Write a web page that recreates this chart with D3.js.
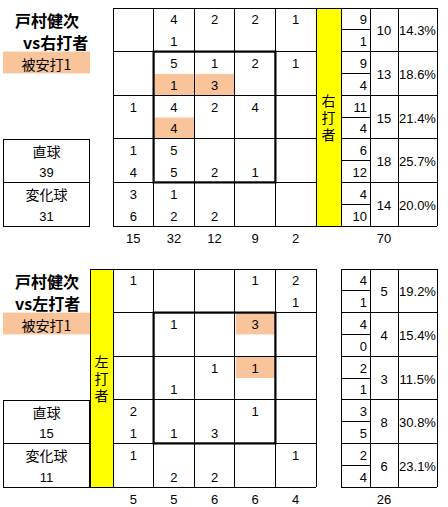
<!DOCTYPE html>
<html><head><meta charset="utf-8">
<script src="https://cdn.jsdelivr.net/npm/d3@7"></script>
<style>
html,body{margin:0;padding:0;background:#fff;}
svg{display:block;}
text{font-family:"Liberation Sans",Arial,sans-serif;}
.jp{font-family:"Noto Sans CJK JP","Noto Sans",sans-serif;}
.vert{writing-mode:vertical-rl;text-orientation:upright;}
</style>
</head><body>
<svg id="c" width="448" height="507"></svg>
<script>
// ---------- data ----------
const pitcher = "戸村健次";
const hitLabel = "被安打1";
const pitchTypes = ["直球", "変化球"];

// vs right-handed batters (rows = height zones, cols = horizontal zones)
const rStraight = [[null,4,2,2,1],[null,5,1,2,1],[1,4,2,4,null],[1,5,null,null,null],[3,1,null,null,null]];
const rBreaking = [[null,1,null,null,null],[null,1,3,null,null],[null,4,null,null,null],[4,5,2,1,null],[6,2,2,null,null]];
const rHits = [[1,1,"b"],[1,2,"b"],[2,1,"b"]];
const rRowStraight = [9,9,11,6,4];
const rRowBreaking = [1,4,4,12,10];
const rRowTotal = [10,13,15,18,14];
const rRowPct = ["14.3%","18.6%","21.4%","25.7%","20.0%"];
const rColTotal = [15,32,12,9,2];
const rGrand = 70;
const rTypeTotals = [39,31];

// vs left-handed batters
const lStraight = [[1,null,null,1,2],[null,1,null,3,null],[null,null,1,1,null],[2,null,null,1,null],[1,null,null,null,1]];
const lBreaking = [[null,null,null,null,1],[null,null,null,null,null],[null,1,null,null,null],[1,1,3,null,null],[null,2,2,null,null]];
const lHits = [[1,3,"t"],[2,3,"t"]];
const lRowStraight = [4,4,2,3,2];
const lRowBreaking = [1,0,1,5,4];
const lRowTotal = [5,4,3,8,6];
const lRowPct = ["19.2%","15.4%","11.5%","30.8%","23.1%"];
const lColTotal = [5,5,6,6,4];
const lGrand = 26;
const lTypeTotals = [15,11];

// ---------- drawing ----------
const svg = d3.select("#c");
svg.append("rect").attr("width",448).attr("height",507).attr("fill","#fff");
const ORANGE = "#F9C499", YELLOW = "#FFFF00";
const idx = d3.range(5);

function line(g,x1,y1,x2,y2,w){
  g.append("line").attr("x1",x1).attr("y1",y1).attr("x2",x2).attr("y2",y2)
   .attr("stroke","#000").attr("stroke-width",w||1).attr("shape-rendering","crispEdges");
}
function txt(g,x,y,s,opt){
  opt=opt||{};
  return g.append("text").attr("x",x).attr("y",y).text(s)
    .attr("text-anchor",opt.anchor||"middle").attr("dominant-baseline","central")
    .attr("font-size",opt.size||13).attr("font-weight",opt.weight||"normal")
    .attr("class",opt.cls||null).attr("fill","#000");
}

function drawChart(cfg){
  const g = svg.append("g");
  const x = d3.scaleBand().domain(idx).range([113,316]);
  const y = d3.scaleBand().domain(idx).range([cfg.top, cfg.top+218]);
  const bw = x.bandwidth(), bh = y.bandwidth();
  const y0 = cfg.top, y1 = cfg.top+218;

  // hit highlights
  cfg.hits.forEach(([r,c,h])=>{
    g.append("rect").attr("x",x(c)+1).attr("y",y(r)+(h==="b"?bh/2:0)+0.5)
     .attr("width",bw-1).attr("height",bh/2-0.5).attr("fill",ORANGE);
  });

  // yellow band with vertical label
  g.append("rect").attr("x",cfg.yx).attr("y",y0).attr("width",cfg.yw).attr("height",218)
   .attr("fill",YELLOW).attr("stroke","#000").attr("shape-rendering","crispEdges");
  g.append("text").attr("class","jp vert").attr("font-size",14)
    .attr("letter-spacing",3)
    .attr("x",cfg.yx+cfg.yw/2).attr("y",(y0+y1)/2+2)
    .attr("text-anchor","middle").attr("fill","#000").text(cfg.batter);

  // grid lines
  idx.concat([5]).forEach(i=>{
    const xx = i<5?x(i):316;
    line(g,xx,y0,xx,y1);
    const yy = i<5?y(i):y1;
    line(g,113,yy,316,yy);
  });
  // strike zone (bold)
  g.append("rect").attr("x",x(1)).attr("y",y(1)).attr("width",bw*3).attr("height",bh*3)
   .attr("fill","none").attr("stroke","#000").attr("stroke-width",2.2);

  // cell values
  idx.forEach(r=>idx.forEach(c=>{
    const a = cfg.straight[r][c], b = cfg.breaking[r][c];
    if(a!=null) txt(g,x(c)+bw/2,y(r)+bh*0.25+1,a);
    if(b!=null) txt(g,x(c)+bw/2,y(r)+bh*0.75+1,b);
  }));
  // column totals
  idx.forEach(c=>txt(g,x(c)+bw/2,y1+12,cfg.colTotal[c]));

  // right summary table
  const tx = [341,370,398,437];
  idx.forEach(r=>{
    line(g,341,y(r),437,y(r));
    line(g,341,y(r)+bh/2,370,y(r)+bh/2);
    txt(g,367,y(r)+bh*0.25+1,cfg.rowStraight[r],{anchor:"end"});
    txt(g,367,y(r)+bh*0.75+1,cfg.rowBreaking[r],{anchor:"end"});
    txt(g,(tx[1]+tx[2])/2,y(r)+bh/2+1,cfg.rowTotal[r]);
    txt(g,(tx[2]+tx[3])/2,y(r)+bh/2+1,cfg.rowPct[r]);
  });
  line(g,341,y1,437,y1);
  tx.forEach(v=>line(g,v,y0,v,y1));
  txt(g,(tx[1]+tx[2])/2,y1+12,cfg.grand);

  // titles
  txt(g,15,cfg.top+12,pitcher,{anchor:"start",size:16,weight:"bold",cls:"jp"});
  txt(g,cfg.vsX,cfg.top+34,"vs"+cfg.batter,{anchor:"start",size:16,weight:"bold",cls:"jp"});
  g.append("rect").attr("x",3).attr("y",y(1)).attr("width",87).attr("height",bh/2).attr("fill",ORANGE);
  txt(g,46.5,y(1)+bh/4+1,hitLabel,{size:14,cls:"jp"});

  // pitch type box
  const by = y(3);
  g.append("rect").attr("x",3.5).attr("y",by+0.5).attr("width",86).attr("height",bh*2)
   .attr("fill","none").attr("stroke","#000").attr("shape-rendering","crispEdges");
  line(g,3,y(4),89,y(4));
  txt(g,46.5,by+bh*0.25+1,pitchTypes[0],{size:14,cls:"jp"});
  txt(g,46.5,by+bh*0.75+1,cfg.typeTotals[0]);
  txt(g,46.5,by+bh*1.25+1,pitchTypes[1],{size:14,cls:"jp"});
  txt(g,46.5,by+bh*1.75+1,cfg.typeTotals[1]);
}

drawChart({top:8, batter:"右打者", vsX:23, yx:316, yw:25,
  straight:rStraight, breaking:rBreaking, hits:rHits,
  rowStraight:rRowStraight, rowBreaking:rRowBreaking, rowTotal:rRowTotal, rowPct:rRowPct,
  colTotal:rColTotal, grand:rGrand, typeTotals:rTypeTotals});
drawChart({top:269, batter:"左打者", vsX:15, yx:90, yw:23,
  straight:lStraight, breaking:lBreaking, hits:lHits,
  rowStraight:lRowStraight, rowBreaking:lRowBreaking, rowTotal:lRowTotal, rowPct:lRowPct,
  colTotal:lColTotal, grand:lGrand, typeTotals:lTypeTotals});
</script>
</body></html>
